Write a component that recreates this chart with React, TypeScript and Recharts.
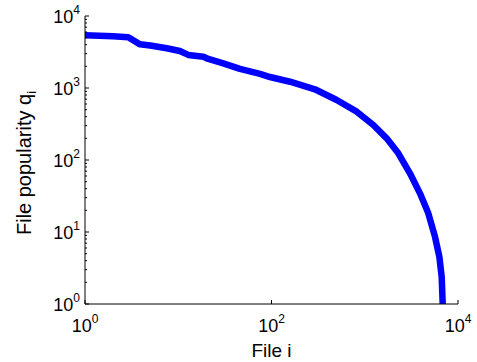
import React from 'react';
import { LineChart, Line, XAxis, YAxis } from 'recharts';

const fileRank = [1, 2, 2.91, 3.89, 5, 7.52, 10.4, 12.8, 18.6, 21, 30.4, 45.9, 75.3, 96.4, 158, 292, 500, 820, 1236, 1718, 2290, 3053, 3910, 4805, 5665, 6310, 6685, 6855];
const popularity = [5400, 5250, 5060, 4040, 3900, 3560, 3270, 2880, 2720, 2530, 2200, 1840, 1570, 1420, 1222, 960, 681, 469, 306, 200, 124, 65.3, 34.4, 18.2, 8.6, 4.54, 2.39, 1];

const xTicks = [1, 100, 10000];
const yDecades = [1, 10, 100, 1000, 10000];
const yTicks: number[] = [];
yDecades.forEach((d, i) => {
  yTicks.push(d);
  if (i < yDecades.length - 1) for (let m = 2; m <= 9; m++) yTicks.push(d * m);
});

const data = fileRank.map((x, i) => ({ x, y: popularity[i] }));

const FONT = '"Liberation Sans", Arial, Helvetica, sans-serif';
const TICK_FS = 18;
const SUP_FS = 12;

const isMajor = (v: number) => Math.abs(Math.log10(v) - Math.round(Math.log10(v))) < 1e-6;

const LeftTick = (props: any) => {
  const { x, y, payload } = props;
  const v = payload.value;
  const major = isMajor(v);
  const exp = Math.round(Math.log10(v));
  return (
    <g>
      <line x1={x} x2={x + (major ? 4 : 2)} y1={y} y2={y} stroke="#000" strokeWidth={1} />
      {major && (
        <text x={x - 5} y={y + 7} textAnchor="end" fontSize={TICK_FS} fontFamily={FONT} fill="#000">
          10<tspan dy={-9} fontSize={SUP_FS}>{exp}</tspan>
        </text>
      )}
    </g>
  );
};

const RightTick = (props: any) => {
  const { x, y, payload } = props;
  const major = isMajor(payload.value);
  return <line x1={x} x2={x - (major ? 4 : 2)} y1={y} y2={y} stroke="#000" strokeWidth={1} />;
};

const BottomTick = (props: any) => {
  const { x, y, payload } = props;
  const exp = Math.round(Math.log10(payload.value));
  return (
    <g>
      <line x1={x} x2={x} y1={y} y2={y - 4} stroke="#000" strokeWidth={1} />
      <text x={x} y={y + 28} textAnchor="middle" fontSize={TICK_FS} fontFamily={FONT} fill="#000">
        10<tspan dy={-9} fontSize={SUP_FS}>{exp}</tspan>
      </text>
    </g>
  );
};

const TopTick = (props: any) => {
  const { x, y } = props;
  return <line x1={x} x2={x} y1={y} y2={y + 4} stroke="#000" strokeWidth={1} />;
};

const XLabel = (props: any) => {
  const { viewBox } = props;
  const cx = viewBox.x + viewBox.width / 2;
  return (
    <text x={cx} y={viewBox.y + 53} textAnchor="middle" fontSize={19} fontFamily={FONT} fill="#000">
      File i
    </text>
  );
};

const YLabel = (props: any) => {
  const { viewBox } = props;
  const cy = viewBox.y + viewBox.height / 2 + 3;
  const tx = 31;
  return (
    <text x={tx} y={cy} textAnchor="middle" fontSize={20} fontFamily={FONT} fill="#000" transform={`rotate(-90, ${tx}, ${cy})`}>
      File popularity q<tspan dy={5} fontSize={13}>i</tspan>
    </text>
  );
};

export default function App() {
  return (
    <div style={{ position: 'absolute', left: 0, top: 0, background: '#fff' }}>
      <LineChart width={477} height={362} data={data} margin={{ top: 16, right: 19, bottom: 0, left: 0 }}>
        <XAxis
          xAxisId="b"
          dataKey="x"
          type="number"
          scale="log"
          domain={[1, 10000]}
          ticks={xTicks}
          interval={0}
          allowDataOverflow
          height={58}
          tickSize={0}
          tickMargin={0}
          tickLine={false}
          axisLine={{ stroke: '#000', strokeWidth: 1 }}
          tick={<BottomTick />}
          label={<XLabel />}
        />
        <XAxis
          xAxisId="t"
          orientation="top"
          dataKey="x"
          type="number"
          scale="log"
          domain={[1, 10000]}
          ticks={xTicks}
          interval={0}
          allowDataOverflow
          height={0}
          tickSize={0}
          tickMargin={0}
          tickLine={false}
          axisLine={{ stroke: '#000', strokeWidth: 1 }}
          tick={<TopTick />}
        />
        <YAxis
          yAxisId="l"
          type="number"
          scale="log"
          domain={[1, 10000]}
          ticks={yTicks}
          interval={0}
          allowDataOverflow
          width={85}
          tickSize={0}
          tickMargin={0}
          tickLine={false}
          axisLine={{ stroke: '#000', strokeWidth: 1 }}
          tick={<LeftTick />}
          label={<YLabel />}
        />
        <YAxis
          yAxisId="r"
          orientation="right"
          type="number"
          scale="log"
          domain={[1, 10000]}
          ticks={yTicks}
          interval={0}
          allowDataOverflow
          width={0}
          tickSize={0}
          tickMargin={0}
          tickLine={false}
          axisLine={{ stroke: '#000', strokeWidth: 1 }}
          tick={<RightTick />}
        />
        <Line
          xAxisId="b"
          yAxisId="l"
          dataKey="y"
          type="linear"
          stroke="#0000ff"
          strokeWidth={6.5}
          dot={false}
          isAnimationActive={false}
          strokeLinejoin="round"
        />
      </LineChart>
    </div>
  );
}
